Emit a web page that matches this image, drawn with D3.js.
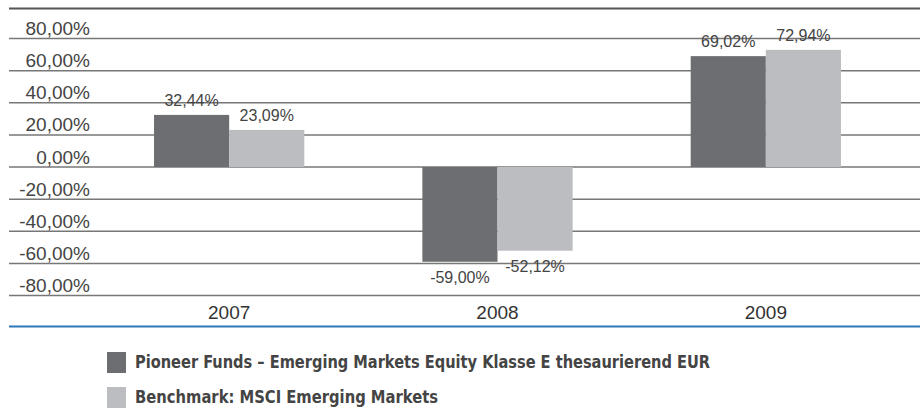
<!DOCTYPE html>
<html>
<head>
<meta charset="utf-8">
<script src="https://cdn.jsdelivr.net/npm/d3@7"></script>
<style>
  html, body { margin: 0; padding: 0; background: #fff; }
  svg { display: block; }
</style>
</head>
<body>
<svg id="chart" width="920" height="408"></svg>
<script>
// Annual returns, fund vs. benchmark
const years = ["2007", "2008", "2009"];
const fundValues = [32.44, -59.00, 69.02];
const benchValues = [23.09, -52.12, 72.94];
const seriesNames = [
  "Pioneer Funds – Emerging Markets Equity Klasse E thesaurierend EUR",
  "Benchmark: MSCI Emerging Markets"
];
const yTicks = [80, 60, 40, 20, 0, -20, -40, -60, -80];

const colors = ["#6d6e72", "#bcbdc1"];
// German-style percent: comma decimal, plain hyphen for negatives
const fmt = v => (v < 0 ? "-" : "") + Math.abs(v).toFixed(2).replace(".", ",") + "%";

const svg = d3.select("#chart");
const W = 920;
const lineLeft = 9;

const y = d3.scaleLinear().domain([-80, 80]).range([295.5, 38.5]);
const x = d3.scaleBand().domain(years).range([95, 900]).paddingInner(0.44).paddingOuter(0.22);
const xs = d3.scaleBand().domain([0, 1]).range([0, x.bandwidth()]);

// top rule
svg.append("line")
  .attr("x1", lineLeft).attr("x2", W).attr("y1", 8.5).attr("y2", 8.5)
  .attr("stroke", "#555").attr("stroke-width", 2);

// gridlines with labels sitting just above each line
const grid = svg.append("g");
grid.selectAll("line").data(yTicks).join("line")
  .attr("x1", lineLeft).attr("x2", W)
  .attr("y1", d => y(d)).attr("y2", d => y(d))
  .attr("stroke", "#777").attr("stroke-width", 1.5);
grid.selectAll("text").data(yTicks).join("text")
  .attr("x", 90).attr("y", d => y(d) - 3.5)
  .attr("text-anchor", "end")
  .attr("font-family", "Liberation Sans, Arial, sans-serif")
  .attr("font-size", 19).attr("fill", "#444")
  .text(d => fmt(d));

// bars
const rows = years.map((yr, i) => ({ yr, vals: [fundValues[i], benchValues[i]] }));
const groups = svg.append("g").selectAll("g").data(rows).join("g")
  .attr("transform", d => `translate(${x(d.yr)},0)`);
groups.selectAll("rect").data(d => d.vals.map((v, k) => ({ v, k }))).join("rect")
  .attr("x", d => xs(d.k))
  .attr("width", xs.bandwidth())
  .attr("y", d => y(Math.max(0, d.v)))
  .attr("height", d => Math.abs(y(d.v) - y(0)))
  .attr("fill", d => colors[d.k]);

// value labels
groups.selectAll("text").data(d => d.vals.map((v, k) => ({ v, k }))).join("text")
  .attr("x", d => xs(d.k) + xs.bandwidth() / 2)
  .attr("y", d => d.v >= 0 ? y(d.v) - 9 : y(d.v) + 21)
  .attr("text-anchor", "middle")
  .attr("font-family", "Liberation Sans, Arial, sans-serif")
  .attr("font-size", 16).attr("fill", "#444")
  .text(d => fmt(d.v));

// category labels
svg.append("g").selectAll("text").data(years).join("text")
  .attr("x", d => x(d) + x.bandwidth() / 2)
  .attr("y", 319)
  .attr("text-anchor", "middle")
  .attr("font-family", "Liberation Sans, Arial, sans-serif")
  .attr("font-size", 19).attr("fill", "#333")
  .text(d => d);

// bottom axis rule
svg.append("line")
  .attr("x1", lineLeft).attr("x2", W).attr("y1", 326.5).attr("y2", 326.5)
  .attr("stroke", "#2f78b8").attr("stroke-width", 2.2);

// legend
const legendWidths = [575, 303];
const legend = svg.append("g").selectAll("g").data(seriesNames).join("g")
  .attr("transform", (d, i) => `translate(107,${352 + i * 35})`);
legend.append("rect")
  .attr("width", 19).attr("height", 21)
  .attr("fill", (d, i) => colors[i]);
legend.append("text")
  .attr("x", 28).attr("y", 16)
  .attr("font-family", "Liberation Sans Narrow, DejaVu Sans Condensed, sans-serif")
  .attr("font-stretch", "condensed")
  .attr("font-weight", "bold")
  .attr("font-size", 18).attr("fill", "#444")
  .attr("textLength", (d, i) => legendWidths[i])
  .attr("lengthAdjust", "spacingAndGlyphs")
  .text(d => d);
</script>
</body>
</html>
